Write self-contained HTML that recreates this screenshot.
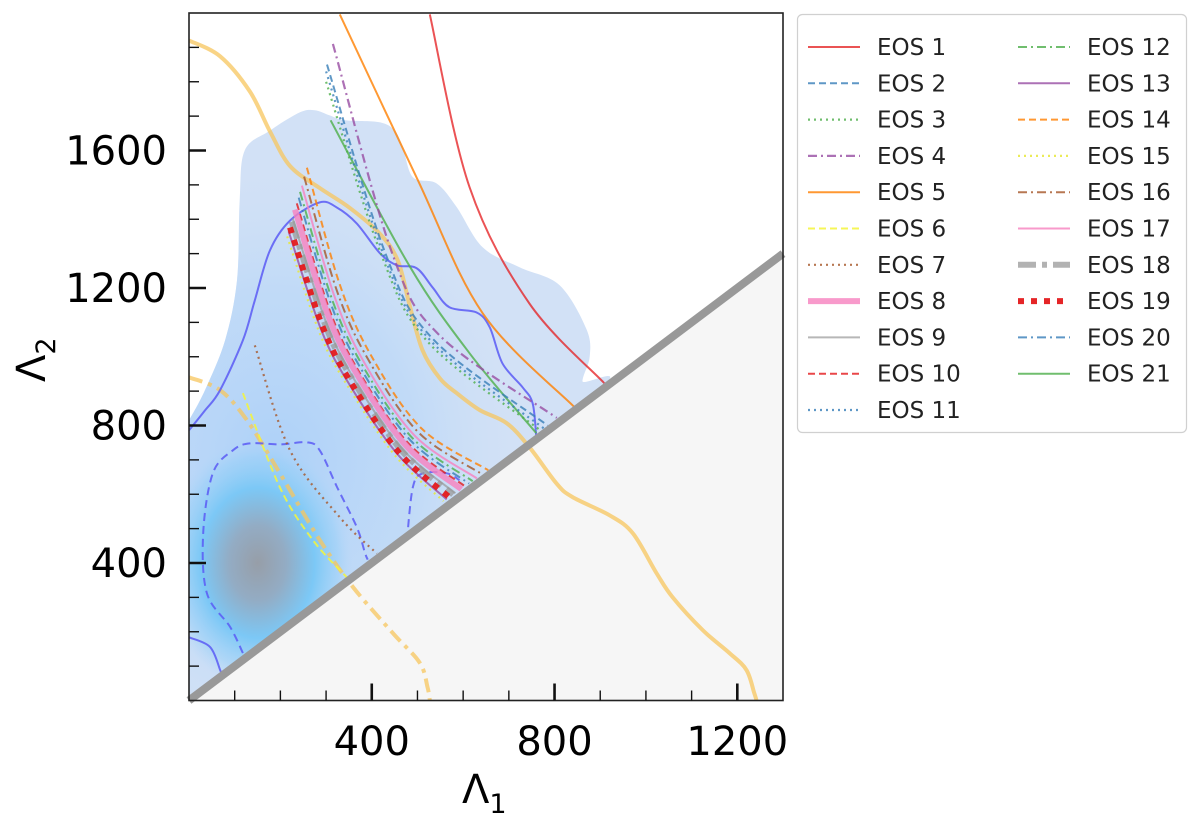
<!DOCTYPE html>
<html><head><meta charset="utf-8"><style>
html,body{margin:0;padding:0;background:#fff;}
svg{display:block;font-family:"DejaVu Sans","Liberation Sans",sans-serif;}
</style></head><body>
<svg id="chart" width="1200" height="821" viewBox="0 0 1200 821" xmlns="http://www.w3.org/2000/svg">
<defs>
<clipPath id="plotClip"><rect x="189" y="13" width="594" height="687"/></clipPath>
<clipPath id="aboveDiag"><polygon id="aboveDiagPoly" points="189,13 783,13 783,253 189,697"/></clipPath>
<radialGradient id="gMid" cx="0.5" cy="0.5" r="0.5">
<stop offset="0" stop-color="#a9cff8" stop-opacity="0.9"/>
<stop offset="0.6" stop-color="#b6d6f8" stop-opacity="0.6"/>
<stop offset="1" stop-color="#c8def6" stop-opacity="0"/>
</radialGradient>
<radialGradient id="gCore" cx="0.5" cy="0.5" r="0.5">
<stop offset="0" stop-color="#979ea8"/>
<stop offset="0.3" stop-color="#93acc4"/>
<stop offset="0.6" stop-color="#7cc8f6"/>
<stop offset="0.85" stop-color="#95cff7" stop-opacity="0.5"/>
<stop offset="1" stop-color="#b0d6f8" stop-opacity="0"/>
</radialGradient>
</defs>
<g id="plot"></g>
<g id="axes"></g>
<g id="legend"></g>
</svg>
<script>
// ---------- data ----------
const eosNames = ["EOS 1","EOS 2","EOS 3","EOS 4","EOS 5","EOS 6","EOS 7","EOS 8","EOS 9","EOS 10","EOS 11","EOS 12","EOS 13","EOS 14","EOS 15","EOS 16","EOS 17","EOS 18","EOS 19","EOS 20","EOS 21"];
const eosLam1 = [
 [527,614,745,909],
 [302,430,535,785],
 [300,420,525,770],
 [315,445,550,805],
 [330,498,643,844],
 [118,199,271,345],
 [144,221,330,411],
 [232,304,371,476,596],
 [227,299,364,468,583],
 [236,308,375,481,604],
 [300,425,530,778],
 [243,315,383,490,621],
 [218,290,355,458,564],
 [258,330,400,510,655],
 [215,287,352,454,557],
 [252,324,394,503,642],
 [247,319,387,495,630],
 [225,297,362,466,578],
 [221,293,358,461,570],
 [240,312,379,486,613],
 [310,483,614,760]
];
const eosLam2 = [
 [1996,1493,1155,923],
 [1850,1300,1050,800],
 [1800,1300,1040,785],
 [1910,1300,1060,822],
 [1996,1522,1126,853],
 [894,620,467,359],
 [1033,728,533,428],
 [1428,1122,942,740,615],
 [1402,1104,929,730,603],
 [1446,1135,950,747,623],
 [1830,1300,1045,790],
 [1480,1160,967,762,638],
 [1365,1076,911,714,585],
 [1550,1210,1000,790,670],
 [1350,1066,905,708,580],
 [1524,1191,988,779,658],
 [1498,1173,975,769,646],
 [1393,1097,925,726,599],
 [1376,1085,917,719,591],
 [1463,1148,959,755,631],
 [1688,1263,1010,778]
];
const densityLam1 = [0,35,79,105,111,122,177,243,275,308,341,417,450,468,490,542,586,643,724,811,870,877,861,861,30,0];
const densityLam2 = [815,903,1048,1222,1455,1600,1658,1711,1717,1702,1688,1682,1658,1609,1522,1504,1435,1318,1260,1208,1080,1000,930,861,30,80];
const orangeSolidLam1 = [0,68,133,177,221,286,352,417,457,483,511,549,586,636,695,745,804,839,920,971,1023,1058,1124,1183,1220,1237,1242];
const orangeSolidLam2 = [1920,1874,1772,1656,1555,1491,1433,1359,1280,1149,1019,937,894,845,807,737,632,592,539,487,371,301,205,138,89,22,1];
const orangeDashLam1 = [0,68,127,199,286,359,446,505,522,527];
const orangeDashLam2 = [940,903,815,661,467,330,196,110,39,1];
const blueOuterLam1 = [0,35,68,118,144,177,221,286,324,367,418,455,498,533,570,629,658,686,730,752,760];
const blueOuterLam2 = [786,844,903,1048,1164,1309,1396,1449,1434,1388,1301,1266,1258,1202,1144,1129,1086,981,911,865,766];
const blueCornerLam1 = [0,46,68,72];
const blueCornerLam2 = [184,156,89,71];
const blueInnerLam1 = [118,90,39,31,52,96,133,199,258,286,324,367,385,391];
const blueInnerLam2 = [138,214,313,487,661,728,748,745,751,728,621,505,430,410];
const blueInner2Lam1 = [477,490,512,564,592];
const blueInner2Lam2 = [467,621,661,661,641];
const xTicks = [400,800,1200];
const yTicks = [400,800,1200,1600];
const xRange = [0,1300];
const yRange = [0,2000];
// ---------- styles ----------
const eosColors = ["#e41a1c","#377eb8","#4daf4a","#984ea3","#ff7f00","#f5f53a","#a65628","#f781bf","#999999","#e41a1c","#377eb8","#4daf4a","#984ea3","#ff7f00","#e8e83a","#a65628","#f781bf","#999999","#e41a1c","#377eb8","#4daf4a"];
const eosWidths = [2,2,2.2,2.2,2,2,2.2,6,2,2,2.2,2,2,2,2.2,2,2,6,6,2,2];
const eosDash = ["","7,4","2,4","9,4,2,4","","7,4","2,4","","","7,4","2,4","9,4,2,4","","7,4","2,4","9,4,2,4","","18,6,5,6","6,7","9,4,2,4",""];
const eosAlpha = [0.75,0.8,0.8,0.8,0.8,0.85,0.8,0.8,0.7,0.8,0.8,0.8,0.8,0.8,0.85,0.8,0.8,0.75,0.95,0.8,0.8];

const L=189,R=783,T=13,B=700.5;
const X=v=>L+(v-xRange[0])/(xRange[1]-xRange[0])*(R-L);
const Y=v=>B-(v-yRange[0])/(yRange[1]-yRange[0])*(B-T);
const NS="http://www.w3.org/2000/svg";
function mk(tag,attrs,parent){const e=document.createElementNS(NS,tag);for(const k in attrs)e.setAttribute(k,attrs[k]);parent.appendChild(e);return e;}
function smooth(xs,ys){
  const p=xs.map((x,i)=>[X(x),Y(ys[i])]);
  let d="M"+p[0][0].toFixed(1)+","+p[0][1].toFixed(1);
  for(let i=0;i<p.length-1;i++){
    const p0=p[i-1]||p[i],p1=p[i],p2=p[i+1],p3=p[i+2]||p2;
    const c1=[p1[0]+(p2[0]-p0[0])/6,p1[1]+(p2[1]-p0[1])/6];
    const c2=[p2[0]-(p3[0]-p1[0])/6,p2[1]-(p3[1]-p1[1])/6];
    d+=" C"+c1.map(v=>v.toFixed(1))+" "+c2.map(v=>v.toFixed(1))+" "+p2.map(v=>v.toFixed(1));
  }
  return d;
}
const plot=document.getElementById('plot');
const axes=document.getElementById('axes');
const legend=document.getElementById('legend');

const below=mk('polygon',{points:`${X(0)},${Y(0)} ${X(1300)},${Y(1300)} ${R},${B} ${L},${B}`,fill:'#f6f6f6'},plot);



const dens=mk('g',{'clip-path':'url(#aboveDiag)'},plot);


const dClip=mk('clipPath',{id:'densClip'},plot.ownerSVGElement.querySelector('defs'));
mk('path',{d:smooth(densityLam1,densityLam2)+"Z"},dClip);
const dLight=mk('path',{d:smooth(densityLam1,densityLam2)+"Z",fill:'#d2e1f6'},dens);


const dg=mk('g',{'clip-path':'url(#densClip)'},dens);
const mid=mk('ellipse',{cx:X(190),cy:Y(700),rx:240,ry:290,fill:'url(#gMid)'},dg);


const core=mk('ellipse',{cx:X(150),cy:Y(400),rx:95,ry:125,fill:'url(#gCore)'},dg);



const cg=mk('g',{'clip-path':'url(#plotClip)'},plot);
function contour(xs,ys,color,w,dash,name,op){
  const e=mk('path',{d:smooth(xs,ys),fill:'none',stroke:color,'stroke-width':w,'stroke-dasharray':dash,opacity:op,'stroke-linecap':'butt'},cg);
  
  
}
contour(orangeSolidLam1,orangeSolidLam2,'#f7c55e',4,'','orange-contour-90',0.75);
contour(orangeDashLam1,orangeDashLam2,'#f7c55e',4,'14,6,4,6','orange-contour-50',0.75);
contour(blueOuterLam1,blueOuterLam2,'#5a5af5',2,'','blue-contour-90',0.85);
contour(blueCornerLam1,blueCornerLam2,'#5a5af5',2,'','blue-contour-90-corner',0.85);
contour(blueInnerLam1,blueInnerLam2,'#5a5af5',2,'8,5','blue-contour-50',0.85);
contour(blueInner2Lam1,blueInner2Lam2,'#5a5af5',2,'8,5','blue-contour-50-right',0.85);

const eg=mk('g',{'clip-path':'url(#plotClip)'},plot);
const order=[0,4,20,3,12,1,10,2,13,15,16,11,19,9,7,8,17,18,14,6,5];
order.forEach(i=>{
  const e=mk('path',{d:smooth(eosLam1[i],eosLam2[i]),fill:'none',stroke:eosColors[i],'stroke-width':eosWidths[i],'stroke-dasharray':eosDash[i],opacity:eosAlpha[i]},eg);
  
  
});

const diag=mk('line',{x1:X(0),y1:Y(0),x2:X(1300),y2:Y(1300),stroke:'#999999','stroke-width':8},plot);



const frame=mk('rect',{x:L,y:T,width:R-L,height:B-T,fill:'none',stroke:'#222','stroke-width':1.6},axes);


for(let v=100;v<1300;v+=100){
  const maj=xTicks.includes(v);
  const t=mk('line',{x1:X(v),x2:X(v),y1:B,y2:B-(maj?17:10),stroke:'#111','stroke-width':maj?2.6:1.4},axes);
  
  
}
for(let v=100;v<2000;v+=100){
  const maj=yTicks.includes(v);
  const t=mk('line',{x1:L,x2:L+(maj?17:10),y1:Y(v),y2:Y(v),stroke:'#111','stroke-width':maj?2.6:1.4},axes);
  
  
}
xTicks.forEach(v=>{
  const t=mk('text',{x:X(v),y:755,'font-size':40,'text-anchor':'middle',fill:'#000'},axes);
  t.textContent=v;
  
  
});
yTicks.forEach(v=>{
  const t=mk('text',{x:167,y:Y(v)+14,'font-size':40,'text-anchor':'end',fill:'#000'},axes);
  t.textContent=v;
  
  
});
const xl=mk('text',{x:462,y:803,'font-size':40,fill:'#000'},axes);
xl.innerHTML='Λ<tspan font-size="27" dy="10">1</tspan>';


const yl=mk('text',{x:0,y:0,'font-size':40,fill:'#000',transform:'translate(45,382) rotate(-90)'},axes);
yl.innerHTML='Λ<tspan font-size="27" dy="10">2</tspan>';



const box=mk('rect',{x:797.5,y:14.5,width:389,height:418,rx:5,fill:'#fff',stroke:'#d0d0d0','stroke-width':1.2},legend);


eosNames.forEach((n,i)=>{
  const col=i<11?0:1, row=i<11?i:i-11;
  const x0=col?1018:808, y0=47+row*36.3;
  const g=mk('g',{},legend);
  
  
  mk('line',{x1:x0,x2:x0+52,y1:y0,y2:y0,stroke:eosColors[i],'stroke-width':eosWidths[i],'stroke-dasharray':eosDash[i],opacity:eosAlpha[i]},g);
  const t=mk('text',{x:x0+69,y:y0+8,'font-size':23,fill:'#222'},g);
  t.textContent=n;
});
</script>
</body></html>
